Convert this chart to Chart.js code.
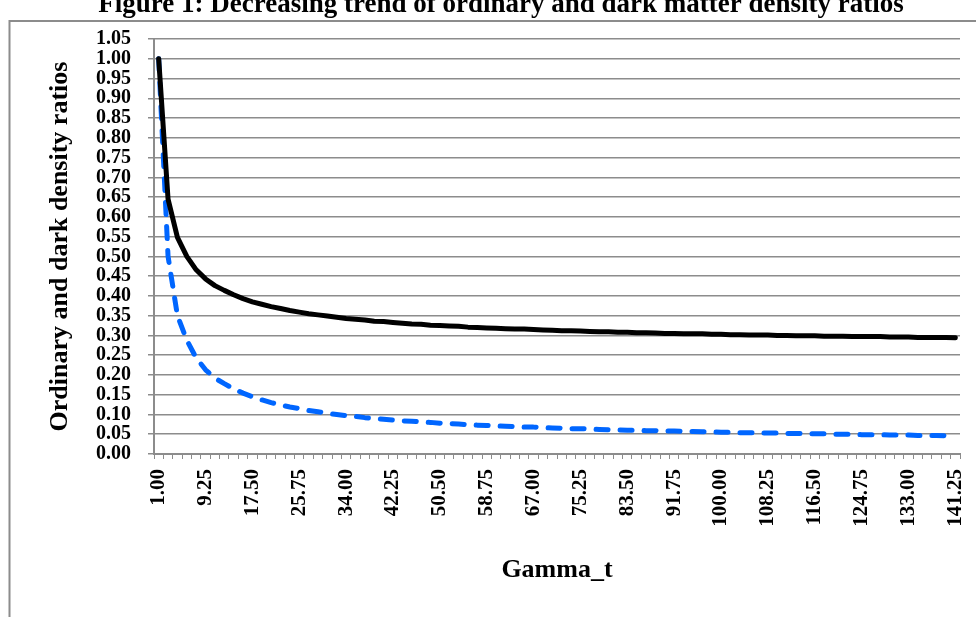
<!DOCTYPE html>
<html lang="en">
<head>
  <meta charset="UTF-8" />
  <title>Figure 1: Decreasing trend of ordinary and dark matter density ratios</title>
  <script src="https://cdn.jsdelivr.net/npm/chart.js"></script>
  <style>
    html, body { margin: 0; padding: 0; background: #fff; }
    #wrap { width: 976px; height: 617px; position: relative; }
  </style>
</head>
<body>
  <div id="wrap"><canvas id="chart" width="976" height="617"></canvas></div>

  <script>
    const gammaT = ['1.00', '2.65', '4.30', '5.95', '7.60', '9.25', '10.90', '12.55', '14.20', '15.85',
      '17.50', '19.15', '20.80', '22.45', '24.10', '25.75', '27.40', '29.05', '30.70', '32.35',
      '34.00', '35.65', '37.30', '38.95', '40.60', '42.25', '43.90', '45.55', '47.20', '48.85',
      '50.50', '52.15', '53.80', '55.45', '57.10', '58.75', '60.40', '62.05', '63.70', '65.35',
      '67.00', '68.65', '70.30', '71.95', '73.60', '75.25', '76.90', '78.55', '80.20', '81.85',
      '83.50', '85.15', '86.80', '88.45', '90.10', '91.75', '93.40', '95.05', '96.70', '98.35',
      '100.00', '101.65', '103.30', '104.95', '106.60', '108.25', '109.90', '111.55', '113.20', '114.85',
      '116.50', '118.15', '119.80', '121.45', '123.10', '124.75', '126.40', '128.05', '129.70', '131.35',
      '133.00', '134.65', '136.30', '137.95', '139.60', '141.25'];

    // black solid curve
    const ordinaryRatio = [1.000, 0.645, 0.548, 0.500, 0.466, 0.443, 0.426, 0.414, 0.403, 0.393,
      0.385, 0.379, 0.373, 0.368, 0.363, 0.359, 0.355, 0.352, 0.349, 0.346,
      0.343, 0.341, 0.339, 0.336, 0.335, 0.333, 0.331, 0.329, 0.328, 0.326,
      0.325, 0.324, 0.323, 0.321, 0.320, 0.319, 0.318, 0.317, 0.316, 0.316,
      0.315, 0.314, 0.313, 0.312, 0.312, 0.311, 0.310, 0.309, 0.309, 0.308,
      0.308, 0.307, 0.307, 0.306, 0.305, 0.305, 0.304, 0.304, 0.304, 0.303,
      0.303, 0.302, 0.302, 0.301, 0.301, 0.301, 0.300, 0.300, 0.299, 0.299,
      0.299, 0.298, 0.298, 0.298, 0.297, 0.297, 0.297, 0.297, 0.296, 0.296,
      0.296, 0.295, 0.295, 0.295, 0.295, 0.294];

    // blue dashed curve
    const darkRatio = [1.000, 0.500, 0.350, 0.288, 0.243, 0.213, 0.192, 0.178, 0.165, 0.154,
      0.145, 0.137, 0.130, 0.124, 0.119, 0.115, 0.110, 0.107, 0.103, 0.100,
      0.097, 0.095, 0.092, 0.090, 0.088, 0.086, 0.084, 0.083, 0.081, 0.080,
      0.078, 0.077, 0.076, 0.074, 0.073, 0.072, 0.071, 0.070, 0.069, 0.068,
      0.068, 0.067, 0.066, 0.065, 0.064, 0.064, 0.063, 0.062, 0.061, 0.061,
      0.060, 0.060, 0.059, 0.059, 0.058, 0.058, 0.057, 0.057, 0.056, 0.056,
      0.055, 0.055, 0.054, 0.054, 0.053, 0.053, 0.053, 0.052, 0.052, 0.051,
      0.051, 0.051, 0.050, 0.050, 0.050, 0.049, 0.049, 0.049, 0.048, 0.048,
      0.048, 0.047, 0.047, 0.047, 0.046, 0.046];

    const chartTitle = 'Figure 1: Decreasing trend of ordinary and dark matter density ratios';
    const serif = '"Liberation Serif", "Times New Roman", serif';
    const gray = '#8c8c8c';

    // frame + cut-off title, like the pasted Excel picture
    const framePlugin = {
      id: 'frame',
      afterDraw(chart) {
        const ctx = chart.ctx;
        ctx.save();
        ctx.strokeStyle = gray;
        ctx.lineWidth = 2;
        ctx.beginPath();
        ctx.moveTo(9.5, 617);
        ctx.lineTo(9.5, 21);
        ctx.lineTo(976, 21);
        ctx.stroke();
        ctx.fillStyle = '#000';
        ctx.font = 'bold 27px ' + serif;
        ctx.textAlign = 'center';
        ctx.textBaseline = 'alphabetic';
        ctx.fillText(chartTitle, 501, 12);
        ctx.restore();
      }
    };

    new Chart(document.getElementById('chart'), {
      type: 'line',
      data: {
        labels: gammaT,
        datasets: [
          {
            label: 'Ordinary matter density ratio',
            data: ordinaryRatio,
            borderColor: '#000',
            borderWidth: 5,
            borderCapStyle: 'round',
            borderJoinStyle: 'round',
            pointRadius: 0,
            tension: 0,
            fill: false,
            order: 0
          },
          {
            label: 'Dark matter density ratio',
            data: darkRatio,
            borderColor: '#0066ff',
            borderWidth: 5,
            borderDash: [12, 12],
            borderCapStyle: 'round',
            borderJoinStyle: 'round',
            pointRadius: 0,
            tension: 0,
            fill: false,
            order: 1
          }
        ]
      },
      options: {
        responsive: false,
        animation: false,
        layout: { padding: { top: 39, right: 16, left: 0, bottom: 0 } },
        plugins: {
          legend: { display: false },
          tooltip: { enabled: false }
        },
        scales: {
          x: {
            offset: true,
            grid: {
              offset: true,
              drawOnChartArea: false,
              drawTicks: true,
              tickLength: 5,
              color: gray,
              lineWidth: 1
            },
            border: { color: gray, width: 2 },
            ticks: {
              autoSkip: false,
              minRotation: 90,
              maxRotation: 90,
              padding: 10,
              color: '#000',
              font: { family: serif, size: 21, weight: 'bold' },
              callback: (v, i) => (i % 5 === 0 ? gammaT[i] : '')
            },
            title: {
              display: true,
              text: 'Gamma_t',
              color: '#000',
              font: { family: serif, size: 26, weight: 'bold' },
              padding: { top: 0, bottom: 31 }
            },
            afterFit: s => { s.height = 163; s.paddingRight = 0; s.paddingLeft = 0; }
          },
          y: {
            min: 0,
            max: 1.05,
            grid: { color: gray, lineWidth: 1.5, tickLength: 6 },
            border: { color: gray, width: 2 },
            ticks: {
              stepSize: 0.05,
              autoSkip: false,
              padding: 17,
              color: '#000',
              font: { family: serif, size: 20, weight: 'bold' },
              callback: v => Number(v).toFixed(2)
            },
            title: {
              display: true,
              text: 'Ordinary and dark density ratios',
              color: '#000',
              font: { family: serif, size: 26, weight: 'bold' },
              padding: { top: 45, bottom: 0 }
            },
            afterFit: s => { s.width = 154; }
          }
        }
      },
      plugins: [framePlugin]
    });
  </script>
</body>
</html>
